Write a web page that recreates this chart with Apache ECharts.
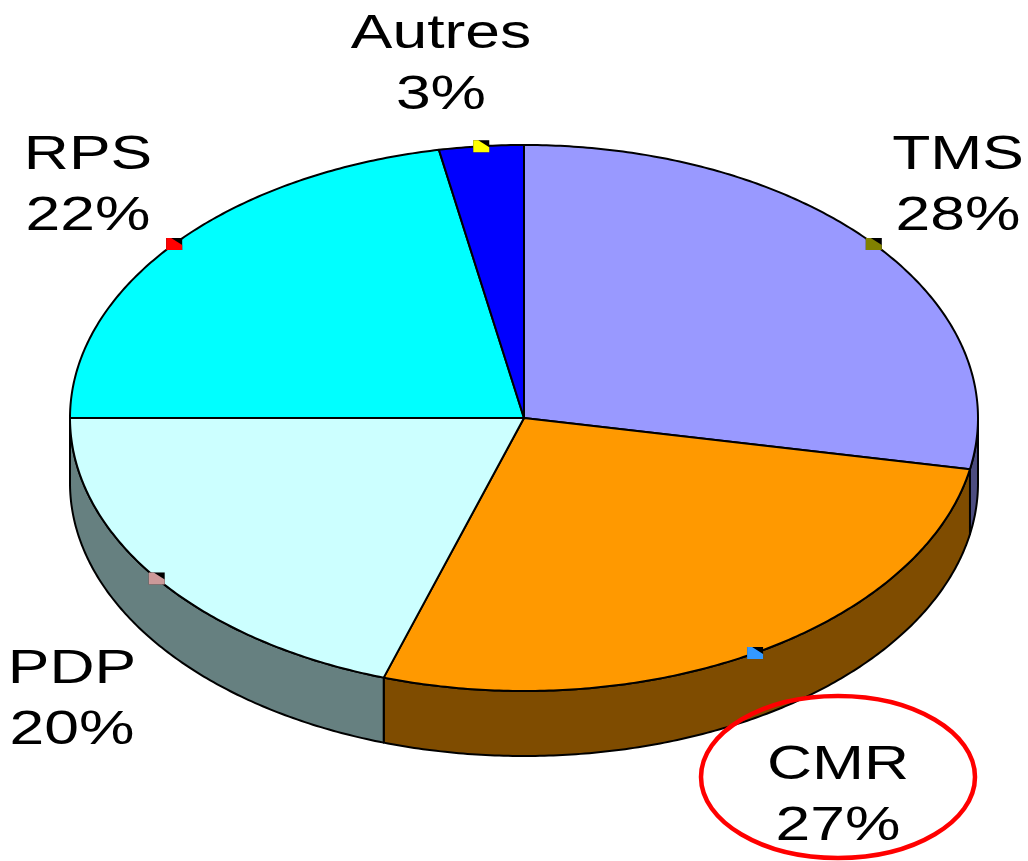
<!DOCTYPE html>
<html><head><meta charset="utf-8">
<script src="https://cdn.jsdelivr.net/npm/echarts@6/dist/echarts.min.js"></script>
<style>html,body{margin:0;padding:0;background:#fff}#c{width:1028px;height:861px}</style>
</head><body><div id="c"></div>
<script>
// ---- data ----
const categories = ['TMS', 'CMR', 'PDP', 'RPS', 'Autres'];
const values = [28, 27, 20, 22, 3];
const topColors = ['#9999FF', '#FF9900', '#CCFFFF', '#00FFFF', '#0000FF'];
const sideColors = ['#4C4C80', '#7F4C00', '#668080', '#008080', '#000080'];
const markerColors = ['#808000', '#3399FF', '#CC9999', '#FF0000', '#FFFF00'];

// ---- layout (not data) ----
const labelPos = [[958, 186], [838, 796], [72, 700], [88, 186], [441, 65]];
const CX = 524, CY = 418, RX = 454, RY = 273, DEPTH = 65;

const total = values.reduce((a, b) => a + b, 0);
const cum = [];
values.reduce((acc, v, i) => { cum[i] = acc; return acc + v; }, 0);

function pt(theta, dy) {
  return [CX + RX * Math.sin(theta), CY - RY * Math.cos(theta) + (dy || 0)];
}
function arc(a, b, dy) {
  const pts = [];
  const n = Math.max(2, Math.ceil(Math.abs(b - a) / 0.01));
  for (let k = 0; k <= n; k++) pts.push(pt(a + (b - a) * k / n, dy));
  return pts;
}

function renderItem(params, api) {
  const i = params.dataIndex;
  const v = api.value(0);
  const start = cum[i] / total * Math.PI * 2;
  const end = (cum[i] + v) / total * Math.PI * 2;
  const children = [];
  // side wall (front half only)
  const a = Math.max(start, Math.PI / 2), b = Math.min(end, Math.PI * 1.5);
  if (b > a) {
    const top = arc(a, b, 0);
    const bot = arc(b, a, DEPTH);
    children.push({
      type: 'polygon',
      shape: { points: top.concat(bot) },
      style: { fill: sideColors[i], stroke: '#000', lineWidth: 2, lineJoin: 'round' }
    });
  }
  // top face
  children.push({
    type: 'polygon',
    shape: { points: [[CX, CY]].concat(arc(start, end, 0)) },
    style: { fill: topColors[i], stroke: '#000', lineWidth: 2, lineJoin: 'round' }
  });
  // leader anchor marker at slice mid-angle on the rim
  const m = pt((start + end) / 2, 0);
  children.push({
    type: 'rect',
    shape: { x: m[0] - 8, y: m[1] - 6, width: 16, height: 12 },
    style: { fill: '#000' }
  });
  children.push({
    type: 'polygon',
    shape: { points: [[m[0] - 8, m[1] + 6], [m[0] + 8, m[1] + 6], [m[0] + 8, m[1] + 1], [m[0] - 3, m[1] - 6], [m[0] - 8, m[1] - 6]] },
    style: { fill: markerColors[i] }
  });
  // label
  const pct = Math.round(v / total * 100) + '%';
  children.push({
    type: 'text',
    x: labelPos[i][0], y: labelPos[i][1],
    scaleX: 1.3, scaleY: 1,
    style: {
      x: 0, y: 0,
      text: categories[i] + '\n' + pct,
      font: '48px "Liberation Sans", Arial, sans-serif',
      fill: '#000', align: 'center', verticalAlign: 'middle', lineHeight: 61
    }
  });
  return { type: 'group', children: children };
}

const chart = echarts.init(document.getElementById('c'), null, { renderer: 'canvas' });
chart.setOption({
  backgroundColor: '#fff',
  animation: false,
  series: [{
    type: 'custom',
    coordinateSystem: 'none',
    renderItem: renderItem,
    data: values.map((v, i) => ({ name: categories[i], value: [v] }))
  }],
  graphic: [{
    type: 'ellipse',
    shape: { cx: 838, cy: 777, rx: 137, ry: 81 },
    style: { fill: 'none', stroke: '#FF0000', lineWidth: 4.5 },
    z: 10
  }]
});
</script></body></html>
